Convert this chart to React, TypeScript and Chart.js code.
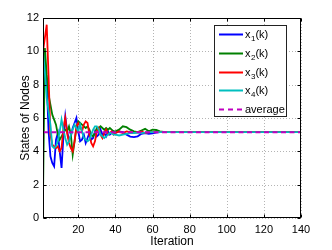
import React, { useEffect, useRef } from "react";
import { Chart, registerables } from "chart.js";

Chart.register(...registerables);

const iterations = [
  1, 2, 3, 4, 5, 6, 7, 8, 9, 10,
  11, 12, 13, 14, 15, 16, 17, 18, 19, 20,
  21, 22, 23, 24, 25, 26, 27, 28, 29, 30,
  31, 32, 33, 34, 35, 36, 37, 38, 39, 40,
  42, 44, 46, 48, 50, 52, 54, 56, 58, 60, 62, 64, 66, 68, 70,
  140,
];

const x1 = [
  9.0, 9.4, 8.2, 5.2, 3.7, 3.3, 3.1, 4.7, 5.1, 4.0,
  3.0, 4.9, 6.1, 5.2, 4.7, 4.9, 5.4, 5.7, 6.0, 5.2,
  4.6, 4.7, 5.0, 4.5, 4.8, 5.1, 4.7, 4.8, 5.2, 4.9,
  5.0, 5.3, 5.0, 5.1, 4.9, 5.2, 5.0, 5.1, 5.2, 5.1,
  5.2, 5.15, 5.0, 4.88, 4.85, 4.9, 5.05, 5.1, 5.05, 5.08, 5.12, 5.15, 5.15, 5.15, 5.15,
  5.15,
];

const x2 = [
  1.3, 10.2, 8.6, 7.4, 6.8, 6.2, 5.9, 5.6, 5.0, 4.7,
  4.9, 5.1, 5.3, 5.2, 5.5, 5.0, 3.8, 4.6, 5.4, 5.8,
  5.7, 5.6, 5.5, 5.4, 5.5, 5.3, 5.0, 4.9, 5.1, 5.4,
  5.4, 5.5, 5.4, 5.3, 5.4, 5.3, 5.4, 5.3, 5.2, 5.2,
  5.3, 5.5, 5.45, 5.3, 5.2, 5.15, 5.25, 5.35, 5.2, 5.3, 5.28, 5.2, 5.17, 5.15, 5.15,
  5.15,
];

const x3 = [
  10.0, 10.8, 11.6, 8.5, 5.0, 4.4, 4.3, 4.2, 4.3, 4.0,
  4.2, 5.4, 6.0, 5.1, 4.5, 4.2, 4.0, 4.6, 5.5, 5.7,
  5.5, 5.2, 5.6, 5.8, 5.7, 5.0, 4.5, 4.3, 4.6, 5.2,
  5.4, 5.0, 4.8, 5.1, 5.3, 5.0, 5.1, 5.2, 5.0, 5.1,
  5.2, 5.1, 5.2, 5.15, 5.1, 5.15, 5.2, 5.1, 5.15, 5.15, 5.15, 5.15, 5.15, 5.15, 5.15,
  5.15,
];

const x4 = [
  10.0, 8.8, 7.2, 6.4, 5.6, 4.3, 4.2, 4.3, 4.6, 5.2,
  5.9, 5.3, 4.8, 4.4, 4.6, 5.0, 5.3, 5.6, 5.4, 5.2,
  5.6, 5.2, 4.8, 4.7, 4.6, 4.7, 5.0, 5.3, 5.5, 5.5,
  5.3, 5.0, 4.9, 4.8, 4.9, 5.0, 5.1, 5.1, 5.0, 5.0,
  4.95, 5.0, 5.05, 5.1, 5.1, 5.12, 5.1, 5.12, 5.15, 5.15, 5.15, 5.15, 5.15, 5.15, 5.15,
  5.15,
];

const averageIterations = [1, 140];
const averageValues = [5.15, 5.15];

const xTicks = [20, 40, 60, 80, 100, 120, 140];
const yTicks = [0, 2, 4, 6, 8, 10, 12];

const legendEntries = [
  { base: "x", sub: "1", tail: "(k)", color: "#0000ff", dash: [] as number[] },
  { base: "x", sub: "2", tail: "(k)", color: "#008000", dash: [] as number[] },
  { base: "x", sub: "3", tail: "(k)", color: "#ff0000", dash: [] as number[] },
  { base: "x", sub: "4", tail: "(k)", color: "#00bfbf", dash: [] as number[] },
  { base: "average", sub: "", tail: "", color: "#bf00bf", dash: [5, 4] },
];

const FONT = "'Liberation Sans', Arial, Helvetica, sans-serif";

const toPoints = (xs: number[], ys: number[]) => xs.map((x, i) => ({ x, y: ys[i] }));

const gridPlugin = {
  id: "matlabGrid",
  beforeDatasetsDraw(chart: any) {
    const { ctx, chartArea: a, scales } = chart;
    ctx.save();
    ctx.strokeStyle = "#b4b4b4";
    ctx.lineWidth = 1;
    ctx.setLineDash([1, 2]);
    xTicks.forEach((t) => {
      const px = Math.round(scales.x.getPixelForValue(t)) + 0.5;
      ctx.beginPath();
      ctx.moveTo(px, a.top);
      ctx.lineTo(px, a.bottom);
      ctx.stroke();
    });
    yTicks.forEach((t) => {
      const py = Math.round(scales.y.getPixelForValue(t)) + 0.5;
      ctx.beginPath();
      ctx.moveTo(a.left, py);
      ctx.lineTo(a.right, py);
      ctx.stroke();
    });
    ctx.restore();
  },
  afterDatasetsDraw(chart: any) {
    const { ctx, chartArea: a, scales } = chart;
    ctx.save();
    ctx.setLineDash([]);
    ctx.strokeStyle = "#000";
    ctx.lineWidth = 1;
    const l = Math.round(a.left) + 0.5;
    const r = Math.round(a.right) - 0.5;
    const t = Math.round(a.top) + 0.5;
    const b = Math.round(a.bottom) - 0.5;
    ctx.strokeRect(l, t, r - l, b - t);
    const tl = 3;
    ctx.beginPath();
    xTicks.forEach((v) => {
      const px = Math.round(scales.x.getPixelForValue(v)) + 0.5;
      ctx.moveTo(px, b);
      ctx.lineTo(px, b - tl);
      ctx.moveTo(px, t);
      ctx.lineTo(px, t + tl);
    });
    yTicks.forEach((v) => {
      const py = Math.round(scales.y.getPixelForValue(v)) + 0.5;
      ctx.moveTo(l, py);
      ctx.lineTo(l + tl, py);
      ctx.moveTo(r, py);
      ctx.lineTo(r - tl, py);
    });
    ctx.stroke();

    // legend
    const bx = 214.5, by = 25.5, bw = 72, bh = 91;
    ctx.fillStyle = "#fff";
    ctx.fillRect(bx, by, bw, bh);
    ctx.strokeStyle = "#222";
    ctx.strokeRect(bx, by, bw, bh);
    const rowStart = 34;
    const rowGap = 18.75;
    legendEntries.forEach((e, i) => {
      const y = Math.round(rowStart + i * rowGap) + 0.5;
      ctx.save();
      ctx.strokeStyle = e.color;
      ctx.lineWidth = 2;
      ctx.setLineDash(e.dash);
      ctx.beginPath();
      ctx.moveTo(219, y);
      ctx.lineTo(243, y);
      ctx.stroke();
      ctx.restore();
      ctx.fillStyle = "#000";
      ctx.textBaseline = "middle";
      ctx.textAlign = "left";
      ctx.font = `11px ${FONT}`;
      let tx = 245;
      ctx.fillText(e.base, tx, y);
      tx += ctx.measureText(e.base).width;
      if (e.sub) {
        ctx.font = `8px ${FONT}`;
        ctx.fillText(e.sub, tx + 0.5, y + 4);
        tx += ctx.measureText(e.sub).width + 0.5;
        ctx.font = `11px ${FONT}`;
        ctx.fillText(e.tail, tx, y);
      }
    });
    ctx.restore();
  },
};

export default function App() {
  const canvasRef = useRef<HTMLCanvasElement | null>(null);

  useEffect(() => {
    if (!canvasRef.current) return;
    Chart.defaults.font.family = FONT;
    const chart = new Chart(canvasRef.current, {
      type: "line",
      data: {
        datasets: [
          {
            label: "average",
            data: toPoints(averageIterations, averageValues),
            borderColor: "#bf00bf",
            borderWidth: 2,
            borderDash: [5, 3.5],
            pointRadius: 0,
            tension: 0,
          },
          {
            label: "x4(k)",
            data: toPoints(iterations, x4),
            borderColor: "#00bfbf",
            borderWidth: 1.8,
            pointRadius: 0,
            tension: 0,
          },
          {
            label: "x3(k)",
            data: toPoints(iterations, x3),
            borderColor: "#ff0000",
            borderWidth: 1.8,
            pointRadius: 0,
            tension: 0,
          },
          {
            label: "x2(k)",
            data: toPoints(iterations, x2),
            borderColor: "#008000",
            borderWidth: 1.8,
            pointRadius: 0,
            tension: 0,
          },
          {
            label: "x1(k)",
            data: toPoints(iterations, x1),
            borderColor: "#0000ff",
            borderWidth: 1.8,
            pointRadius: 0,
            tension: 0,
          },
        ],
      },
      options: {
        responsive: false,
        animation: false,
        devicePixelRatio: 1,
        layout: { padding: { left: 0, right: 31, top: 18, bottom: 0 } },
        plugins: { legend: { display: false }, tooltip: { enabled: false } },
        scales: {
          x: {
            type: "linear",
            min: 1,
            max: 140,
            afterBuildTicks: (s: any) => {
              s.ticks = xTicks.map((v) => ({ value: v }));
            },
            afterFit: (s: any) => {
              s.height = 32;
            },
            grid: { display: false, drawTicks: false },
            border: { display: false },
            ticks: {
              color: "#000",
              font: { size: 11 },
              padding: 5,
              maxRotation: 0,
              autoSkip: false,
            },
            title: {
              display: true,
              text: "Iteration",
              color: "#000",
              font: { size: 12 },
              padding: { top: 0, bottom: 1 },
            },
          },
          y: {
            type: "linear",
            min: 0,
            max: 12,
            afterBuildTicks: (s: any) => {
              s.ticks = yTicks.map((v) => ({ value: v }));
            },
            afterFit: (s: any) => {
              s.width = 43;
            },
            grid: { display: false, drawTicks: false },
            border: { display: false },
            ticks: {
              color: "#000",
              font: { size: 11 },
              padding: 4,
              autoSkip: false,
            },
            title: {
              display: true,
              text: "States of Nodes",
              color: "#000",
              font: { size: 12 },
              padding: { top: 18, bottom: 0 },
            },
          },
        },
      },
      plugins: [gridPlugin],
    });
    return () => chart.destroy();
  }, []);

  return (
    <div style={{ position: "absolute", left: 0, top: 0, width: 332, height: 250, background: "#fff" }}>
      <canvas ref={canvasRef} width={332} height={250} style={{ display: "block" }} />
    </div>
  );
}
